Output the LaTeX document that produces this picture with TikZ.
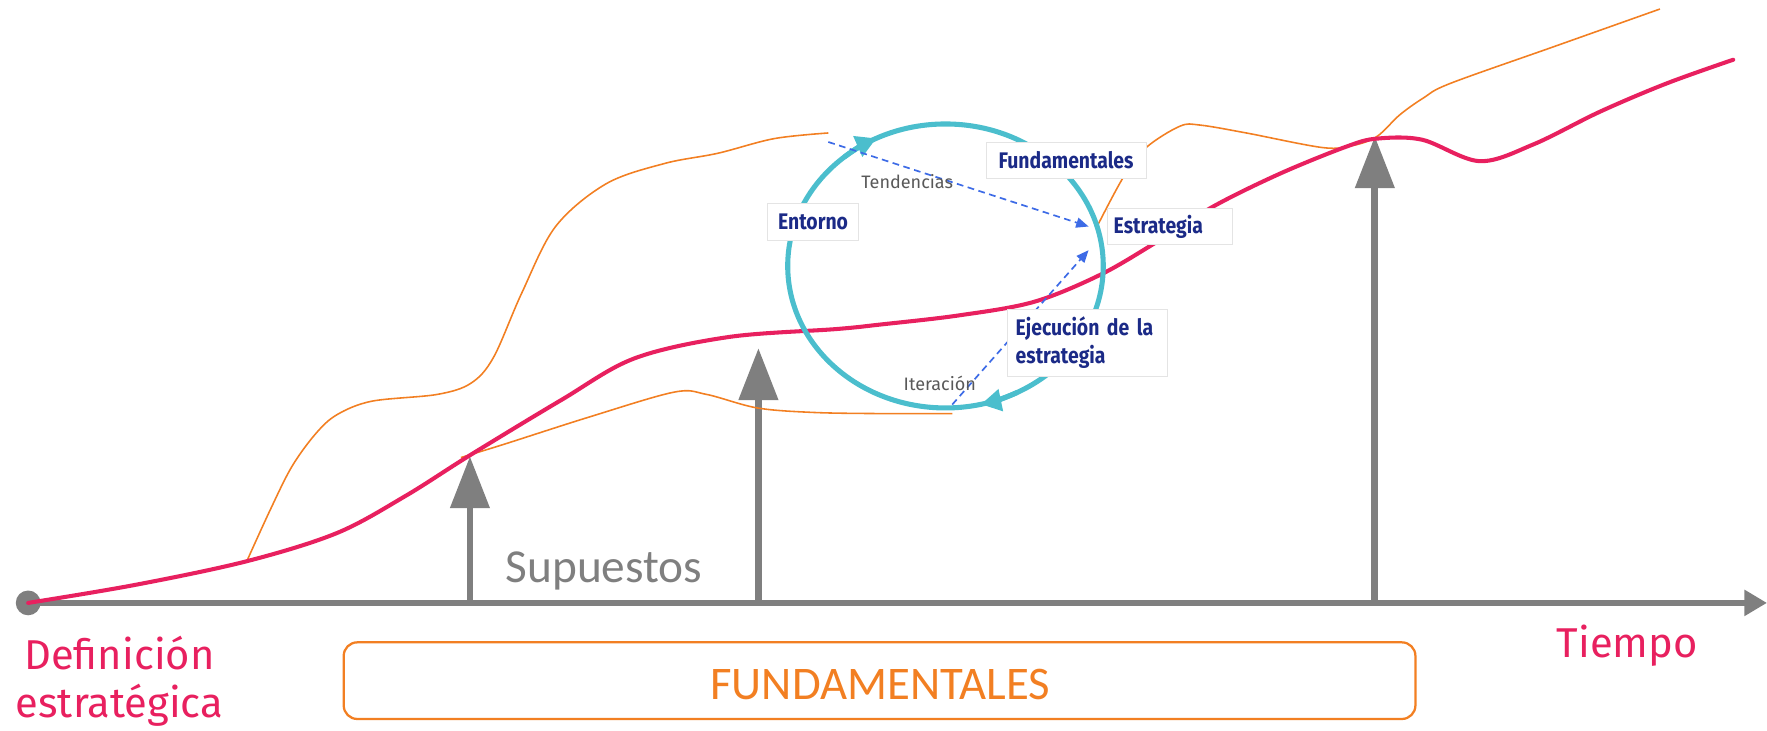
\documentclass[tikz,border=0pt]{standalone}
\usepackage{fontspec}
\setmainfont{Fira Sans}
\newfontfamily\labfont[FakeStretch=0.86]{Fira Sans}
\newfontfamily\pinkfont{Fira Sans}
\newfontfamily\calfont{Carlito}
\usetikzlibrary{arrows.meta,calc}
\definecolor{pinkc}{HTML}{E8205F}
\definecolor{orangec}{HTML}{F27F22}
\definecolor{axisgray}{HTML}{7F7F7F}
\definecolor{tealc}{HTML}{4BBECD}
\definecolor{navyc}{HTML}{1B2A87}
\definecolor{dashblue}{HTML}{3D6BE6}
\definecolor{boxgray}{HTML}{E4E4E4}
\definecolor{txtgray}{HTML}{595959}
\begin{document}
\begin{tikzpicture}[x=1pt,y=-1pt,
  pinkline/.style={draw=pinkc, line width=3.6pt, line cap=round},
  orangeline/.style={draw=orangec, line width=1.4pt},
  axisline/.style={draw=axisgray, line width=5pt, -{Triangle[length=20pt,width=22pt]}},
  uparrow/.style={draw=axisgray, line width=6pt, -{Triangle[length=46pt,width=34pt]}},
  cyc/.style={draw=tealc, line width=4.5pt},
  cyctip/.style={draw=tealc, line width=4.5pt, -{Triangle[length=18pt,width=19pt]}},
  dasharrow/.style={draw=dashblue, line width=1.5pt, dash pattern=on 6pt off 4pt, -{Triangle[length=11pt,width=9pt]}},
  lab/.style={draw=boxgray, line width=0.6pt, fill=white, text=navyc, inner sep=0pt,
    font=\labfont\bfseries\fontsize{20}{25}\selectfont},
  smalltxt/.style={text=txtgray, inner sep=0pt, font=\fontsize{16}{19}\selectfont},
  pinktxt/.style={text=pinkc, inner sep=0pt, font=\pinkfont\fontsize{37}{45}\selectfont},
]
\useasboundingbox (0,0) rectangle (1568,648);

% axis and vertical arrows
\node[circle, fill=axisgray, minimum size=22pt, inner sep=0pt] (origin) at (25,535) {};
\coordinate (axend) at (1568,535);
\draw[axisline] (origin.center) -- (axend);
\coordinate (b1) at (417,535); \coordinate (t1) at (417,405);
\coordinate (b2) at (673,535); \coordinate (t2) at (673,309);
\coordinate (b3) at (1220,535); \coordinate (t3) at (1220,121);
\draw[uparrow] (b1) -- (t1);
\draw[uparrow] (b2) -- (t2);
\draw[uparrow] (b3) -- (t3);

% orange curves
\draw[orangeline] plot[smooth, tension=0.55] coordinates {(219,498) (240,452) (259,414) (280,385) (299,368) (330,356) (388,350) (418,340) (438,317) (463,260) (493,201) (538,163) (590,145) (637,136) (687,123) (735,118)};
\draw[orangeline] plot[smooth, tension=0.55] coordinates {(409,406) (448,394) (523,370) (598,348) (627,350) (672,362) (722,366) (781,367) (845,367)};
\draw[orangeline] plot[smooth, tension=0.55] coordinates {(974,200) (997,157) (1017,131) (1047,112) (1065,111) (1106,118) (1174,131) (1201,129) (1222,121) (1242,102) (1263,87) (1287,74) (1380,41) (1473,8)};

% pink curve
\draw[pinkline] plot[smooth, tension=0.55] coordinates {(25,535) (120,519) (219,498) (299,473) (360,440) (417,404) (498,355) (563,318) (647,299) (742,292) (781,288) (850,280) (917,268) (976,244) (1026,215) (1077,183) (1136,154) (1195,130) (1222,123) (1262,124) (1313,143) (1361,128) (1420,99) (1479,74) (1538,53)};

% cycle
\coordinate (cc) at (839,236);
\draw[cyc] (cc) ellipse [x radius=140pt, y radius=126pt];
\draw[cyctip] ($(cc)+(130:140pt and 126pt)$) arc[start angle=130, end angle=116, x radius=140pt, y radius=126pt];
\draw[cyctip] ($(cc)+(-63:140pt and 126pt)$) arc[start angle=-63, end angle=-77, x radius=140pt, y radius=126pt];

% dashed arrows
\coordinate (d1s) at (735,126); \coordinate (d1e) at (966,201);
\coordinate (d2s) at (845,359); \coordinate (d2e) at (966,222);
\draw[dasharrow] (d1s) -- (d1e);
\draw[dasharrow] (d2s) -- (d2e);

% labels
\node[smalltxt] (tend) at (805,161) {Tendencias};
\node[smalltxt] (iter) at (834,340) {Iteración};
\node[lab, minimum width=81pt, minimum height=33pt] (entorno) at (721.5,196.5) {Entorno};
\node[lab, minimum width=142pt, minimum height=32pt] (fund) at (946,142) {Fundamentales};
\node[lab, anchor=west, align=left, text width=99pt, inner xsep=6pt, minimum height=32pt] (estr) at (982,201) {Estrategia};
\node[lab, anchor=north west, align=left, text width=128pt, inner xsep=7pt, minimum height=60pt] (ejec) at (894,274) {Ejecución de la\\estrategia};

% bottom texts
\node[text=axisgray, inner sep=0pt, anchor=base, font=\calfont\fontsize{42}{50}\selectfont] (sup) at (536,517) {Supuestos};
\node[draw=orangec, line width=2pt, rounded corners=12pt, minimum width=951pt, minimum height=68pt, inner sep=0pt] (fbox) at (780.5,604) {};
\node[text=orangec, inner sep=0pt, anchor=base, font=\calfont\fontsize{41.5}{50}\selectfont] (ftxt) at (781,621) {FUNDAMENTALES};
\node[pinktxt, anchor=base] (def1) at (106,594) {Definición};
\node[pinktxt, anchor=base] (def2) at (106,637) {estratégica};
\node[pinktxt, anchor=base] (tiempo) at (1444,583) {Tiempo};
\end{tikzpicture}
\end{document}
